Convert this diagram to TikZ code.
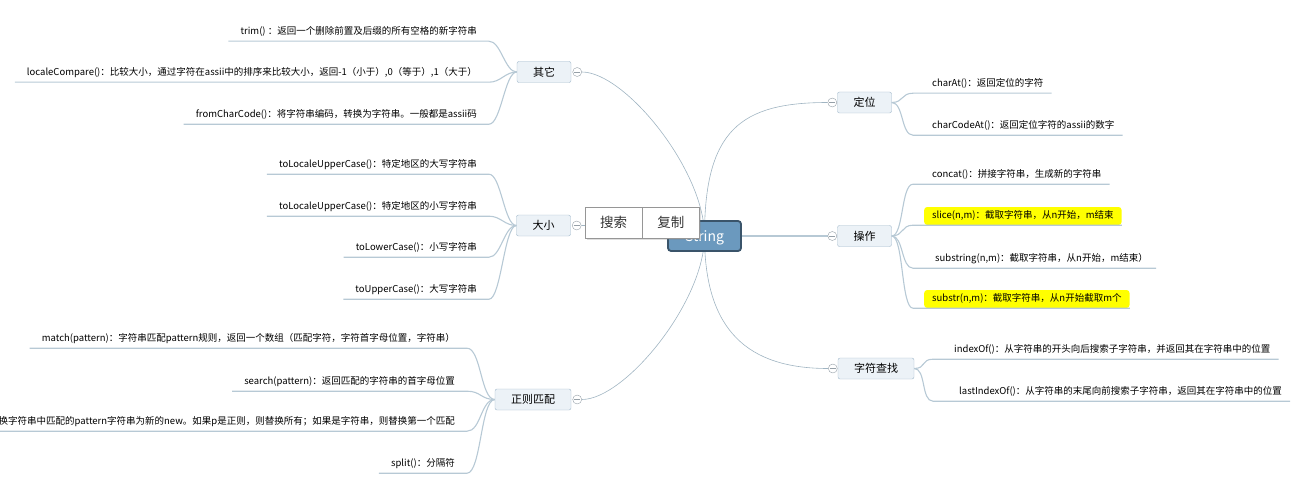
\documentclass[tikz,border=0pt]{standalone}
\usepackage{fontspec}
\setmainfont{Noto Sans CJK SC}
\usepackage{tikz}
\usetikzlibrary{positioning,backgrounds,shadows}
\definecolor{rootfill}{RGB}{107,153,190}
\definecolor{rootdraw}{RGB}{58,84,106}
\definecolor{boxfill}{RGB}{236,242,247}
\definecolor{boxdraw}{RGB}{160,183,202}
\definecolor{linec}{RGB}{160,180,194}
\definecolor{leafc}{RGB}{183,201,213}
\definecolor{foldc}{RGB}{150,160,168}
\definecolor{popc}{RGB}{150,150,150}
\definecolor{hilite}{RGB}{255,255,0}

\begin{document}
\begin{tikzpicture}[x=1pt,y=-1pt,
  root/.style={draw=rootdraw,line width=1.8pt,fill=rootfill,rounded corners=3pt,minimum width=73pt,minimum height=30pt,text height=10pt,text depth=0pt,text=white,font=\fontsize{14}{16}\selectfont},
  branch/.style={draw=boxdraw,fill=boxfill,rounded corners=2pt,minimum height=21pt,inner xsep=16pt,inner ysep=0pt,font=\fontsize{11}{13}\selectfont},
  fold/.style={circle,draw=foldc,fill=white,minimum size=9pt,inner sep=0pt,path picture={\draw[foldc] ([xshift=-3pt]path picture bounding box.center) -- ([xshift=3pt]path picture bounding box.center);}},
  leaf/.style={inner xsep=12pt,inner ysep=4.5pt,text height=7pt,text depth=2pt,text=black,font=\fontsize{9.5}{11}\selectfont},
  leafr/.style={leaf,inner xsep=8pt},
  hl/.style={fill=hilite,rounded corners=3pt},
  stem/.style={draw=linec,line width=0.6pt},
  twig/.style={draw=leafc,line width=1.1pt},
  popbtn/.style={draw=popc,fill=white,minimum width=57pt,minimum height=31pt,inner sep=0pt,text=black!80,font=\fontsize{13.5}{15}\selectfont,drop shadow={shadow xshift=1.5pt,shadow yshift=-1.5pt,opacity=.25}}]
\useasboundingbox (0,0) rectangle (1297,492);

% centre and branches
\node[root] (root) at (704.5,236) {String};

\node[branch] (qita) at (544,72) {其它};
\node[branch] (daxiao) at (543.5,225.5) {大小};
\node[branch] (zhengze) at (533,399.5) {正则匹配};
\node[branch] (dingwei) at (864.5,102.5) {定位};
\node[branch] (caozuo) at (864.5,236) {操作};
\node[branch] (chazhao) at (876,368.5) {字符查找};

\node[fold] (qitac) at ([xshift=6pt]qita.east) {};
\node[fold] (daxiaoc) at ([xshift=6pt]daxiao.east) {};
\node[fold] (zhengzec) at ([xshift=6pt]zhengze.east) {};
\node[fold] (dingweic) at ([xshift=-5pt]dingwei.west) {};
\node[fold] (caozuoc) at ([xshift=-5pt]caozuo.west) {};
\node[fold] (chazhaoc) at ([xshift=-5pt]chazhao.west) {};

\begin{scope}[on background layer]
\draw[stem] (root.center) .. controls +(0,-66) and +(43,0) .. (qitac.east);
\draw[stem] (root.center) .. controls +(-50,0) and +(40,0) .. (daxiaoc.east);
\draw[stem] (root.center) .. controls +(0,66) and +(43,0) .. (zhengzec.east);
\draw[stem] (root.center) .. controls +(0,-106) and +(-87,0) .. (dingweic.west);
\draw[stem,draw=leafc,line width=1.8pt] (root.east) -- (caozuoc.west);
\draw[stem] (root.center) .. controls +(0,95) and +(-80,0) .. (chazhaoc.west);
\end{scope}

% left leaves
\node[leaf,anchor=east] (q1) at (489,32) {trim() ：返回一个删除前置及后缀的所有空格的新字符串};
\node[leaf,anchor=east] (q2) at (489,73) {localeCompare()：比较大小，通过字符在assii中的排序来比较大小，返回-1（小于）,0（等于）,1（大于）};
\node[leaf,anchor=east] (q3) at (489,115) {fromCharCode()：将字符串编码，转换为字符串。一般都是assii码};

\node[leaf,anchor=east] (d1) at (489,165) {toLocaleUpperCase()：特定地区的大写字符串};
\node[leaf,anchor=east] (d2) at (489,207) {toLocaleUpperCase()：特定地区的小写字符串};
\node[leaf,anchor=east] (d3) at (489,248) {toLowerCase()：小写字符串};
\node[leaf,anchor=east] (d4) at (489,290) {toUpperCase()：大写字符串};

\node[leaf,anchor=east] (z1) at (467,339) {match(pattern)：字符串匹配pattern规则，返回一个数组（匹配字符，字符首字母位置，字符串）};
\node[leaf,anchor=east] (z2) at (467,382) {search(pattern)：返回匹配的字符串的首字母位置};
\node[leaf,anchor=east] (z3) at (467,422) {替换字符串中匹配的pattern字符串为新的new。如果p是正则，则替换所有；如果是字符串，则替换第一个匹配};
\node[leaf,anchor=east] (z4) at (467,464) {split()：分隔符};

\foreach \b/\l in {qita/q1,qita/q2,qita/q3,daxiao/d1,daxiao/d2,daxiao/d3,daxiao/d4}
  \draw[twig] (\b.west) .. controls +(-12,0) and +(12,0) .. (\l.south east) -- (\l.south west);
\foreach \l in {z1,z2,z3,z4}
  \draw[twig] (zhengze.west) .. controls +(-14,0) and +(14,0) .. (\l.south east) -- (\l.south west);

% right leaves
\node[leafr,anchor=west] (w1) at (924,84) {charAt()：返回定位的字符};
\node[leafr,anchor=west] (w2) at (924,126) {charCodeAt()：返回定位字符的assii的数字};

\node[leafr,anchor=west] (c1) at (924,175) {concat()：拼接字符串，生成新的字符串};
\node[leafr,hl,anchor=west] (c2) at (924,216) {slice(n,m)：截取字符串，从n开始，m结束};
\node[leafr,anchor=west] (c3) at (927,259) {substring(n,m)：截取字符串，从n开始，m结束）};
\node[leafr,hl,anchor=west] (c4) at (924,299) {substr(n,m)：截取字符串，从n开始截取m个};

\node[leafr,anchor=west] (s1) at (946,350) {indexOf()：从字符串的开头向后搜索子字符串，并返回其在字符串中的位置};
\node[leafr,anchor=west] (s2) at (951,392) {lastIndexOf()：从字符串的末尾向前搜索子字符串，返回其在字符串中的位置};

\foreach \b/\l/\s in {dingwei/w1/11,dingwei/w2/11,caozuo/c1/11,caozuo/c2/11,caozuo/c3/14,caozuo/c4/11,chazhao/s1/13,chazhao/s2/18}
  \draw[twig] (\b.east) .. controls +(12,0) and +(-12,0) .. ([xshift=-\s pt]\l.south west) -- (\l.south east);

% popup menu over the centre
\node[popbtn] (sousuo) at (613.5,222.5) {搜索};
\node[popbtn,anchor=west] (fuzhi) at (sousuo.east) {复制};
\end{tikzpicture}
\end{document}
